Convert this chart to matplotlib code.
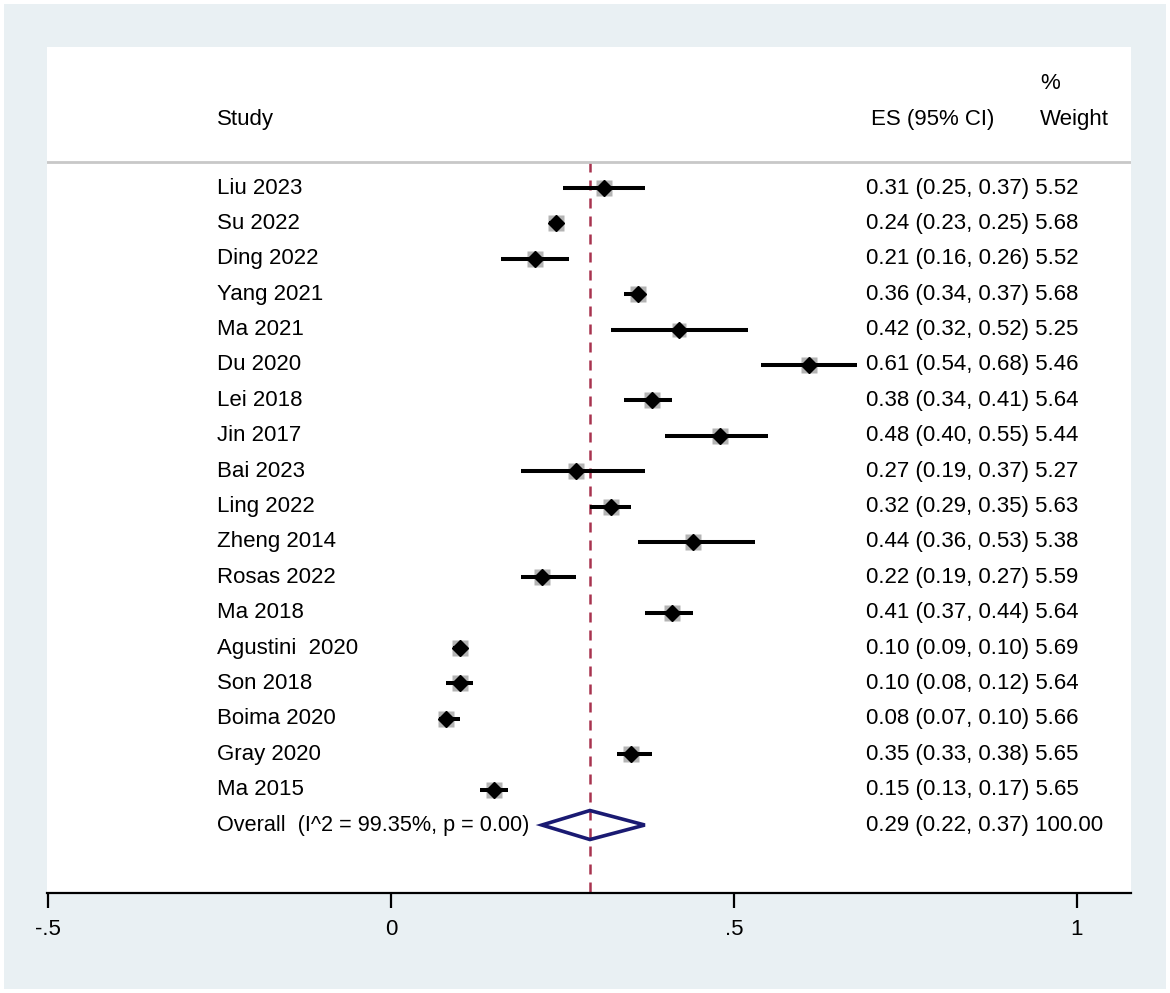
import matplotlib.pyplot as plt
from matplotlib.patches import Rectangle, Polygon

plt.rcParams['font.family'] = ['Liberation Sans', 'DejaVu Sans']

estudios = ["Liu 2023", "Su 2022", "Ding 2022", "Yang 2021", "Ma 2021", "Du 2020",
            "Lei 2018", "Jin 2017", "Bai 2023", "Ling 2022", "Zheng 2014", "Rosas 2022",
            "Ma 2018", "Agustini  2020", "Son 2018", "Boima 2020", "Gray 2020", "Ma 2015"]
es = [0.31, 0.24, 0.21, 0.36, 0.42, 0.61, 0.38, 0.48, 0.27, 0.32, 0.44, 0.22,
      0.41, 0.10, 0.10, 0.08, 0.35, 0.15]
ic_inf = [0.25, 0.23, 0.16, 0.34, 0.32, 0.54, 0.34, 0.40, 0.19, 0.29, 0.36, 0.19,
          0.37, 0.09, 0.08, 0.07, 0.33, 0.13]
ic_sup = [0.37, 0.25, 0.26, 0.37, 0.52, 0.68, 0.41, 0.55, 0.37, 0.35, 0.53, 0.27,
          0.44, 0.10, 0.12, 0.10, 0.38, 0.17]
pesos = [5.52, 5.68, 5.52, 5.68, 5.25, 5.46, 5.64, 5.44, 5.27, 5.63, 5.38, 5.59,
         5.64, 5.69, 5.64, 5.66, 5.65, 5.65]

global_es, global_inf, global_sup = 0.29, 0.22, 0.37
global_texto = "Overall  (I^2 = 99.35%, p = 0.00)"

fondo = "#e9f0f3"
fig = plt.figure(figsize=(11.7, 9.93), dpi=100)
fig.patch.set_facecolor("white")
fig.add_artist(Rectangle((4 / 1170, 1 - 989 / 993), 1162 / 1170, 985 / 993,
                         transform=fig.transFigure, facecolor=fondo, edgecolor="none", zorder=0))

W, H = 1170, 993
izq, der, arriba, abajo = 47, 1131, 47, 893
ax = fig.add_axes([izq / W, 1 - abajo / H, (der - izq) / W, (abajo - arriba) / H])
ax.set_facecolor("white")

# escala: 686 px por unidad, 0 en x=391
x0 = (izq - 391) / 686
x1 = (der - 391) / 686
ax.set_xlim(x0, x1)
fila0, paso = 188, 35.39
ax.set_ylim((abajo - fila0) / paso, (arriba - fila0) / paso)

fs = 16
n = len(estudios)
for i in range(n):
    ax.plot([ic_inf[i], ic_sup[i]], [i, i], color="black", lw=2.9, solid_capstyle="butt", zorder=3)
    ax.plot(es[i], i, marker="s", ms=pesos[i] * 2.05, color="#b4b4b4", mec="none", zorder=2)
    ax.plot(es[i], i, marker="D", ms=7.8, color="black", zorder=4)
    ax.text(-0.2536, i, estudios[i], fontsize=fs, va="center", ha="left")
    ax.text(0.692, i, f"{es[i]:.2f} ({ic_inf[i]:.2f}, {ic_sup[i]:.2f}) {pesos[i]:.2f}",
            fontsize=fs, va="center", ha="left")

# diamante global
yg = n
ax.add_patch(Polygon([[global_inf, yg], [global_es, yg - 0.41], [global_sup, yg], [global_es, yg + 0.41]],
                     closed=True, fill=False, edgecolor="#1a1a72", lw=2.6, zorder=4))
ax.text(-0.2536, yg, global_texto, fontsize=15.6, va="center", ha="left")
ax.text(0.692, yg, f"{global_es:.2f} ({global_inf:.2f}, {global_sup:.2f}) 100.00",
        fontsize=fs, va="center", ha="left")

# encabezados
y_linea = (162 - fila0) / paso
ax.axhline(y_linea, color="#c8c8c8", lw=2)
ax.text(-0.2536, (119 - fila0) / paso, "Study", fontsize=fs, va="center", ha="left")
ax.text(0.699, (119 - fila0) / paso, "ES (95% CI)", fontsize=fs, va="center", ha="left")
ax.text(0.946, (119 - fila0) / paso, "Weight", fontsize=fs, va="center", ha="left")
ax.text(0.946, (83 - fila0) / paso, "%", fontsize=fs, va="center", ha="left")

# linea de referencia
ax.plot([global_es, global_es], [y_linea, (abajo - fila0) / paso], color="#a8334f",
        lw=1.8, ls=(0, (4, 3.2)), zorder=1)

for lado in ["top", "right", "left"]:
    ax.spines[lado].set_visible(False)
ax.spines["bottom"].set_linewidth(1.6)
ax.set_yticks([])
ax.set_xticks([-0.5, 0, 0.5, 1])
ax.set_xticklabels(["-.5", "0", ".5", "1"], fontsize=fs)
ax.tick_params(axis="x", length=11, width=1.6, pad=8)

plt.savefig("out.png", dpi=100, facecolor=fig.get_facecolor())
